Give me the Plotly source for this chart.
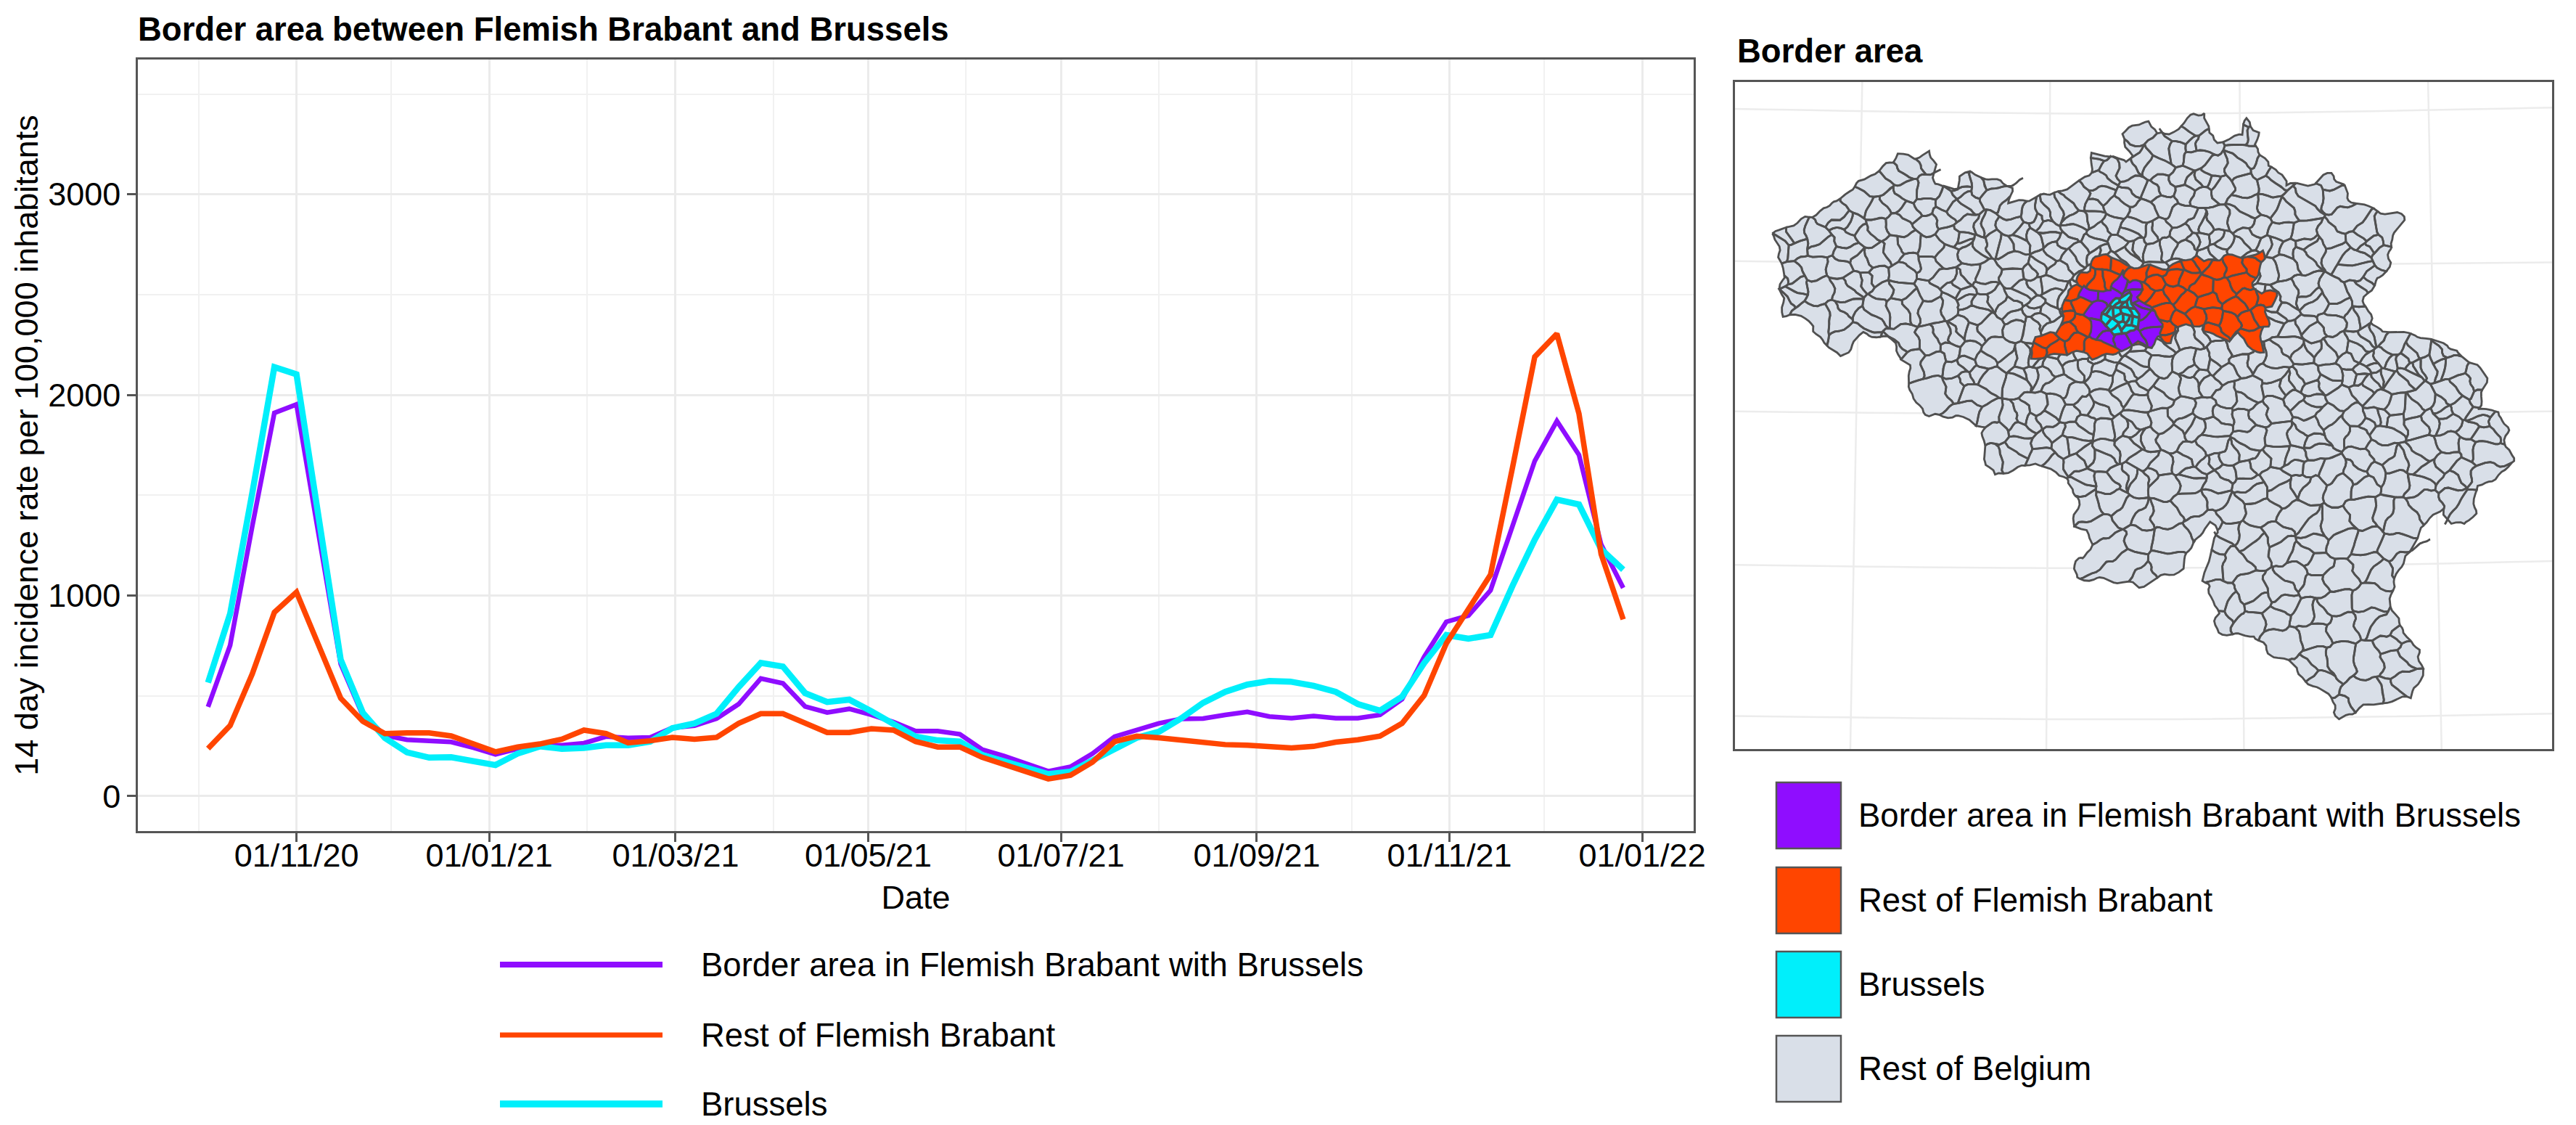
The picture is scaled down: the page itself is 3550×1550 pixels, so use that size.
import math
import pandas as pd
import plotly.graph_objects as go

W, H = 3550, 1550

# ---------- line chart data ----------
dates = pd.date_range("2020-10-04", periods=65, freq="7D")
border_area = [445,752,1345,1910,1953,1317,659,402,303,281,278,270,242,208,236,254,254,264,297,290,293,341,351,387,459,586,562,447,417,435,405,369,324,324,309,233,200,164,124,146,212,297,327,363,385,387,405,420,397,389,399,389,389,405,483,695,869,900,1026,1340,1671,1870,1701,1255,1038]
rest_brabant = [237,352,609,916,1017,745,488,373,312,315,315,300,260,221,245,260,284,329,312,266,276,293,284,293,363,411,411,363,317,317,336,329,272,245,245,194,158,116,86,104,170,272,299,291,281,272,257,254,248,240,248,269,281,299,363,502,761,930,1104,1641,2190,2305,1906,1207,881]
brussels = [566,909,1510,2139,2103,1374,680,416,290,218,192,194,176,155,212,248,236,240,254,254,272,339,363,411,544,664,646,514,469,481,423,363,297,278,272,206,176,140,110,122,176,236,291,321,387,465,520,556,574,570,550,520,459,426,496,664,803,785,803,1050,1279,1478,1454,1231,1129]

series_names = ["Border area in Flemish Brabant with Brussels", "Rest of Flemish Brabant", "Brussels"]
map_labels = series_names + ["Rest of Belgium"]
PURPLE, ORANGE, CYAN, GREY = "#8F0DFF", "#FF4500", "#00EFFB", "#D9DFE8"
map_colors = [PURPLE, ORANGE, CYAN, GREY]
EDGE = "#555555"

# ---------- map geometry (traced by eye; map units) ----------
belgium_x = [85,130,180,230,270,305,315,345,375,382,385,425,432,455,525,522,560,600,640,670,675,715,735,745,728,780,790,835,860,885,890,910,950,960,982,975,1000,1030,1030,1085,1115,1140,1145,1195,1245,1248,1225,1225,1195,1175,1190,1215,1260,1320,1360,1400,1400,1385,1425,1440,1440,1455,1420,1385,1380,1362,1340,1320,1285,1260,1230,1225,1250,1280,1285,1260,1180,1130,1115,1070,1040,1000,975,905,905,880,905,895,860,840,760,700,650,640,675,665,640,650,620,570,495,475,475,425,375,340,335,300,250,210,185,150,105,100,105]
belgium_y = [450,425,395,355,325,295,280,290,275,305,345,355,325,320,350,385,375,365,345,325,280,285,300,285,235,208,240,230,195,195,240,255,240,205,235,260,310,320,345,345,320,345,375,400,410,425,465,510,560,580,640,655,660,680,710,740,780,820,825,860,900,935,965,985,1040,1065,1062,1030,1075,1120,1190,1240,1290,1340,1385,1430,1450,1478,1430,1395,1360,1335,1300,1295,1240,1180,1080,1060,1100,1160,1195,1180,1180,1145,1120,1075,1070,1010,960,935,960,925,860,835,835,800,730,670,660,708,690,630,620,580,520]

# coloured areas, traced on a finer crop (crop units, converted below)
brabant_cx = [140,175,260,275,280,300,345,345,390,415,465,515,530,620,650,700,780,835,860,950,1020,1075,1100,1125,1085,1060,1100,1155,1150,1125,1125,1100,1105,1060,1010,965,870,860,780,735,735,700,675,640,560,510,465,400,370,270,200,150]
brabant_cy = [455,400,385,320,270,205,190,140,125,75,60,95,115,110,115,120,90,65,95,70,70,70,50,75,130,175,220,220,270,285,360,370,470,450,390,420,380,355,355,365,420,430,400,440,440,460,480,490,470,470,495,490]
brabant_sx = [445,510,370,420,470,595,665,730,665,615,740,810,845,905,990,1070,1100,800,860,935,1020,1040,1120,1000,880,780,735,670,700,770,835,895,965,1045,1095,1060,900,700,715,315,350,295,290,350,295,215,320,250,165,415]
brabant_sy = [95,105,155,170,155,135,130,155,180,210,100,105,95,125,110,110,70,160,195,205,180,240,245,280,255,265,220,245,295,335,315,320,340,330,320,410,380,370,410,230,275,280,315,340,385,415,430,450,470,455]
border_cx = [340,370,450,480,520,555,605,590,650,680,690,640,580,520,480,440,385,395,370,400,340]
border_cy = [230,190,225,210,130,180,170,240,280,350,400,440,430,460,445,420,390,345,310,260,240]
border_sx = [390,420,520,570,620,635,650,580,520,465,410,575,600,460]
border_sy = [220,290,170,190,270,340,395,410,430,420,375,230,295,230]
capital_cx = [435,470,490,550,590,590,545,490,440]
capital_cy = [335,270,240,225,300,360,395,385,345]
capital_sx = [455,500,560,530,495,480,520,570,530,500,545,575,520,460,535,510,550,480,565]
capital_sy = [325,370,370,245,250,345,270,300,335,300,300,335,355,290,275,330,340,300,265]

# graticule of the map panel
grat_v_top = [250, 597, 947, 1295]
grat_v_bot = [228, 590, 955, 1320]
grat_h_left = [185, 507, 825, 1150, 1470]
grat_h_mid = [195, 515, 832, 1157, 1477]
grat_h_right = [182, 510, 825, 1142, 1465]


def crop_pts(xs, ys):
    return [(496 + x * 0.4468, 461 + y * 0.5124) for x, y in zip(xs, ys)]


def inside(p, poly):
    x, y = p
    c = False
    n = len(poly)
    for i in range(n):
        x1, y1 = poly[i]
        x2, y2 = poly[(i + 1) % n]
        if (y1 > y) != (y2 > y) and x < (x2 - x1) * (y - y1) / (y2 - y1) + x1:
            c = not c
    return c


def on_edge(p, poly, eps=1e-6):
    n = len(poly)
    for i in range(n):
        a, b = poly[i], poly[(i + 1) % n]
        dx, dy = b[0] - a[0], b[1] - a[1]
        t = ((p[0] - a[0]) * dx + (p[1] - a[1]) * dy) / (dx * dx + dy * dy)
        t = max(0, min(1, t))
        if math.hypot(a[0] + t * dx - p[0], a[1] + t * dy - p[1]) < eps:
            return True
    return False


def clip(poly, a, b, c):
    out = []
    n = len(poly)
    for i in range(n):
        p, q = poly[i], poly[(i + 1) % n]
        dp = a * p[0] + b * p[1] - c
        dq = a * q[0] + b * q[1] - c
        if dp <= 0:
            out.append(p)
        if (dp < 0 < dq) or (dq < 0 < dp):
            t = dp / (dp - dq)
            out.append((p[0] + t * (q[0] - p[0]), p[1] + t * (q[1] - p[1])))
    return out


def split_bridges(poly, boundary):
    # a concave boundary can leave one clipped cell in several pieces joined by
    # segments that run outside the boundary: cut them
    n = len(poly)
    bad = []
    for i in range(n):
        p, q = poly[i], poly[(i + 1) % n]
        m = ((p[0] + q[0]) / 2, (p[1] + q[1]) / 2)
        if not on_edge(m, boundary) and not inside(m, boundary):
            bad.append(i)
    if not bad:
        return [poly]
    pieces = []
    for k, i in enumerate(bad):
        j = bad[(k + 1) % len(bad)]
        idx = i + 1
        piece = []
        while True:
            piece.append(poly[idx % n])
            if idx % n == j:
                break
            idx += 1
        if len(piece) >= 3:
            pieces.append(piece)
    return pieces


def warp(p):
    x, y = p
    dx = 3.2 * math.sin(y / 9.0 + 1.3 * math.sin(x / 23.0)) + 1.8 * math.sin((x + y) / 6.0)
    dy = 3.2 * math.sin(x / 8.0 + 1.3 * math.sin(y / 19.0)) + 1.8 * math.sin((x - y) / 7.0)
    return (x + dx, y + dy)


def wobble(poly, step=7.0):
    res = []
    n = len(poly)
    for i in range(n):
        p, q = poly[i], poly[(i + 1) % n]
        L = math.hypot(q[0] - p[0], q[1] - p[1])
        k = max(1, int(L / step))
        for j in range(k):
            t = j / k
            res.append(warp((p[0] + t * (q[0] - p[0]), p[1] + t * (q[1] - p[1]))))
    return res


def mesh(sites, boundary, nearest=40):
    xs, ys = [], []
    for i, s in enumerate(sites):
        others = sorted((o for j, o in enumerate(sites) if j != i),
                        key=lambda o: (o[0] - s[0]) ** 2 + (o[1] - s[1]) ** 2)[:nearest]
        poly = list(boundary)
        for o in others:
            a, b = o[0] - s[0], o[1] - s[1]
            c = (o[0] ** 2 + o[1] ** 2 - s[0] ** 2 - s[1] ** 2) / 2
            poly = clip(poly, a, b, c)
            if len(poly) < 3:
                break
        if len(poly) < 3:
            continue
        for piece in split_bridges(poly, boundary):
            w = wobble(piece)
            xs += [p[0] for p in w] + [w[0][0], None]
            ys += [p[1] for p in w] + [w[0][1], None]
    return xs, ys


outline = list(zip(belgium_x, belgium_y))


def density(x, y):
    d = 0.5
    if y > 980:
        d = 0.28
    elif x > 1000:
        d = 0.42
    elif x < 420:
        d = 0.42
    d += 0.5 * math.exp(-(((x - 1230) / 120) ** 2 + ((y - 730) / 90) ** 2))
    d += 0.15 * math.exp(-(((x - 650) / 260) ** 2 + ((y - 500) / 160) ** 2))
    return min(d, 0.9)


g = 1.22074408460575947536
grey_sites = []
for n in range(1, 2700):
    u = (0.5 + n / g) % 1
    v = (0.5 + n / g ** 2) % 1
    w_ = (0.5 + n / g ** 3) % 1
    px, py = 80 + u * 1380, 190 + v * 1290
    px += 13 * math.sin(py / 13.0 + n * 0.7)
    py += 13 * math.sin(px / 11.0 + n * 1.1)
    if inside((px, py), outline) and w_ < density(px, py):
        grey_sites.append((px, py))

layers = [
    (grey_sites, outline, GREY, 2.8),
    (crop_pts(brabant_sx, brabant_sy), crop_pts(brabant_cx, brabant_cy), ORANGE, 2.8),
    (crop_pts(border_sx, border_sy), crop_pts(border_cx, border_cy), PURPLE, 2.8),
    (crop_pts(capital_sx, capital_sy), crop_pts(capital_cx, capital_cy), CYAN, 3.4),
]

fig = go.Figure()

# ---------- time series ----------
line_specs = [(border_area, 0, PURPLE, 6.5), (brussels, 2, CYAN, 8.5), (rest_brabant, 1, ORANGE, 7.5)]
for vals, idx, col, lw in line_specs:
    fig.add_trace(go.Scatter(x=dates, y=vals, mode="lines", name=series_names[idx],
                             line=dict(color=col, width=lw), showlegend=False, xaxis="x", yaxis="y"))

# ---------- map ----------
for t, b in zip(grat_v_top, grat_v_bot):
    fig.add_trace(go.Scatter(x=[t, b], y=[128, 1540], mode="lines", line=dict(color="#ECECEC", width=2.5),
                             showlegend=False, hoverinfo="skip", xaxis="x2", yaxis="y2"))
for l_, m_, r_ in zip(grat_h_left, grat_h_mid, grat_h_right):
    fig.add_trace(go.Scatter(x=[15, 770, 1524], y=[l_, m_, r_], mode="lines",
                             line=dict(color="#ECECEC", width=2.5, shape="spline"),
                             showlegend=False, hoverinfo="skip", xaxis="x2", yaxis="y2"))
for sites, boundary, col, lw in layers:
    mx, my = mesh(sites, boundary)
    fig.add_trace(go.Scatter(x=mx, y=my, mode="lines", fill="toself", fillcolor=col,
                             line=dict(color="#505050", width=lw), showlegend=False,
                             hoverinfo="skip", xaxis="x2", yaxis="y2"))

# ---------- legends ----------
shapes = []
annotations = []
sw_left, sw_right, sw_text = 2448, 2537, 2559
sw_top = [1078, 1195, 1311, 1427]
sw_h = 91
for top, lab, col in zip(sw_top, map_labels, map_colors):
    shapes.append(dict(type="rect", xref="paper", yref="paper",
                       x0=sw_left / W, x1=sw_right / W, y0=1 - (top + sw_h) / H, y1=1 - top / H,
                       fillcolor=col, line=dict(color=EDGE, width=2.5)))
    annotations.append(dict(text=lab, xref="paper", yref="paper", x=sw_text / W, y=1 - (top + sw_h / 2) / H,
                            xanchor="left", yanchor="middle", showarrow=False,
                            font=dict(size=45.5, color="black")))
key_left, key_right, key_text = 689, 913, 964
key_y = [1329, 1426, 1521]
key_w = [8, 7, 9.5]
for y_, lab, col, lw in zip(key_y, series_names, map_colors, key_w):
    shapes.append(dict(type="line", xref="paper", yref="paper", x0=key_left / W, x1=key_right / W,
                       y0=1 - y_ / H, y1=1 - y_ / H, line=dict(color=col, width=lw)))
    annotations.append(dict(text=lab, xref="paper", yref="paper", x=key_text / W, y=1 - y_ / H,
                            xanchor="left", yanchor="middle", showarrow=False,
                            font=dict(size=45.5, color="black")))
annotations.append(dict(text="<b>Border area</b>", xref="paper", yref="paper", x=2392 / W, y=1 - 70 / H,
                        xanchor="left", yanchor="middle", showarrow=False,
                        font=dict(size=45.5, color="black")))

FONT = "Liberation Sans, Arial, sans-serif"
fig.update_layout(
    width=W, height=H, autosize=False, showlegend=False,
    margin=dict(l=0, r=0, t=0, b=0, autoexpand=False),
    paper_bgcolor="white", plot_bgcolor="white",
    font=dict(family=FONT, size=45, color="black"),
    title=dict(text="<b>Border area between Flemish Brabant and Brussels</b>", x=190 / W, xanchor="left",
               xref="paper", yref="container", y=1 - 40 / H, yanchor="middle", font=dict(size=45.5, color="black")),
    xaxis=dict(domain=[190 / W, 2334 / W], anchor="y", type="date",
               range=["2020-09-11 19:00", "2022-01-17 07:00"],
               tick0="2020-11-01", dtick="M2", tickformat="%d/%m/%y",
               ticks="outside", ticklen=12, tickwidth=2.5, tickcolor=EDGE, ticklabelstandoff=-20,
               showline=True, mirror=True, linecolor=EDGE, linewidth=2.5,
               showgrid=True, gridcolor="#EBEBEB", gridwidth=3,
               minor=dict(dtick="M1", showgrid=True, gridcolor="#F1F1F1", gridwidth=1.5),
               title=dict(text="Date", standoff=18, font=dict(size=45)), tickfont=dict(size=45), zeroline=False),
    yaxis=dict(domain=[1 - 1145 / H, 1 - 82 / H], anchor="x", range=[-174, 3672],
               tick0=0, dtick=1000, ticks="outside", ticklen=12, tickwidth=2.5, tickcolor=EDGE,
               showline=True, mirror=True, linecolor=EDGE, linewidth=2.5,
               showgrid=True, gridcolor="#EBEBEB", gridwidth=3,
               minor=dict(dtick=500, showgrid=True, gridcolor="#F1F1F1", gridwidth=1.5),
               title=dict(text="14 day incidence rate per 100,000 inhabitants", standoff=0, font=dict(size=45)),
               tickfont=dict(size=45), zeroline=False),
    xaxis2=dict(domain=[2391 / W, 3517 / W], anchor="y2", range=[15, 1524], showgrid=False, zeroline=False,
                showticklabels=False, ticks="", showline=True, mirror=True, linecolor=EDGE, linewidth=2.5),
    yaxis2=dict(domain=[1 - 1032 / H, 1 - 113 / H], anchor="x2", range=[1540, 128], showgrid=False, zeroline=False,
                showticklabels=False, ticks="", showline=True, mirror=True, linecolor=EDGE, linewidth=2.5),
    shapes=shapes, annotations=annotations,
)

fig.write_html("out.html", config={"displayModeBar": False},
               post_script="document.body.style.margin='0';document.body.style.background='white';")
